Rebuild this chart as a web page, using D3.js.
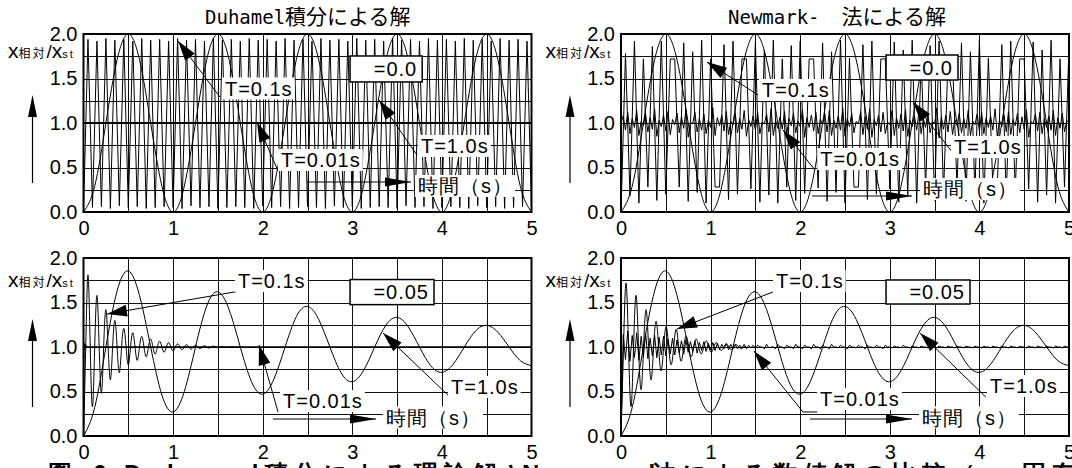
<!DOCTYPE html>
<html>
<head>
<meta charset="utf-8">
<script src="https://cdn.jsdelivr.net/npm/d3@7/dist/d3.min.js"></script>
<style>
  body { margin: 0; background: #fff; }
  svg { display: block; }
  text { font-family: "Liberation Sans", Arial, sans-serif; fill: #000; }
</style>
</head>
<body>
<svg id="chart" width="1072" height="468"></svg>
<script>
// axis ticks and grid
const xTicks = [0, 1, 2, 3, 4, 5]
const yTicks = [0, 0.5, 1, 1.5, 2]
const xGrid = [0.5, 1, 1.5, 2, 2.5, 3, 3.5, 4, 4.5]
const yGrid = [0.25, 0.5, 0.75, 1, 1.25, 1.5, 1.75]

// --- zeta = 0.0 ---------------------------------------------------------
// T=1.0s, one value every 0.125 s
const z0T10 = [0,0.29,1,1.71,2,1.71,1,0.29, 0,0.29,1,1.71,2,1.71,1,0.29,
  0,0.29,1,1.71,2,1.71,1,0.29, 0,0.29,1,1.71,2,1.71,1,0.29,
  0,0.29,1,1.71,2,1.71,1,0.29, 0]
// Duhamel T=0.1s, one value every 0.05 s
const duhZ0T01 = [0,1.94,0.05,1.92,0.06,1.95,0.04,1.93,0.07,1.94,
  0.05,1.92,0.06,1.95,0.04,1.93,0.05,1.94,0.06,1.92,
  0.05,1.95,0.04,1.93,0.07,1.94,0.05,1.92,0.06,1.95,
  0.04,1.93,0.05,1.94,0.06,1.92,0.05,1.95,0.04,1.93,
  0.07,1.94,0.05,1.92,0.06,1.95,0.04,1.93,0.05,1.94,
  0.06,1.92,0.05,1.95,0.04,1.93,0.07,1.94,0.05,1.92,
  0.06,1.95,0.04,1.93,0.05,1.94,0.06,1.92,0.05,1.95,
  0.04,1.93,0.07,1.94,0.05,1.92,0.06,1.95,0.04,1.93,
  0.05,1.94,0.06,1.92,0.05,1.95,0.04,1.93,0.07,1.94,
  0.05,1.92,0.06,1.95,0.04,1.93,0.05,1.94,0.06,1.92,
  0.05]
// Duhamel T=0.01s, every 0.5 s
const duhZ0T001 = [1,1,1,1,1,1,1,1,1,1,1]
// Newmark T=0.1s, every 0.05 s
const nmZ0T01 = [0,1.78,0.18,1.92,0.10,1.72,0.28,1.86,0.13,1.92,
  0.20,1.72,1.72,0.28,1.90,0.12,1.80,0.22,1.93,0.10,
  1.72,0.28,0.28,1.88,0.14,1.92,0.20,1.72,1.72,0.26,
  1.91,0.11,1.82,0.19,1.93,0.10,1.72,0.28,1.87,0.13,
  1.92,0.21,1.72,1.72,0.27,1.90,0.12,1.80,0.22,1.93,
  0.10,1.73,0.28,0.28,1.88,0.14,1.92,0.20,1.72,1.72,
  0.26,1.91,0.11,1.82,0.19,1.93,0.10,1.72,0.28,1.87,
  0.13,1.92,0.21,1.72,1.72,0.27,1.90,0.12,1.80,0.22,
  1.93,0.10,1.73,0.28,0.28,1.88,0.14,1.92,0.20,1.72,
  1.72,0.26,1.91,0.11,1.82,0.19,1.93,0.10,1.72,0.28,
  1.87]
// Newmark T=0.01s, every 0.025 s
const nmZ0T001 = [1.00,1.08,0.92,1.12,0.88,1.05,0.95,1.14,0.86,1.02,
  0.97,1.10,0.90,1.06,0.93,1.16,0.85,1.03,0.96,1.09,
  0.91,1.13,0.87,1.04,0.98,1.11,0.89,1.07,0.94,1.15,
  0.84,1.01,0.99,1.12,0.90,1.05,0.92,1.10,0.88,1.03,
  0.95,1.17,0.86,1.06,0.97,1.09,0.91,1.13,0.87,1.02,
  0.98,1.11,0.89,1.05,0.93,1.14,0.85,1.04,0.96,1.08,
  0.92,1.12,0.88,1.01,0.99,1.10,0.90,1.16,0.86,1.03,
  0.94,1.07,0.93,1.13,0.87,1.05,0.97,1.11,0.89,1.02,
  0.96,1.15,0.84,1.06,0.95,1.09,0.91,1.12,0.88,1.04,
  0.98,1.10,0.90,1.14,0.86,1.03,0.94,1.08,0.92,1.17,
  0.85,1.05,0.96,1.11,0.89,1.02,0.99,1.13,0.87,1.07,
  0.93,1.16,0.84,1.04,0.97,1.09,0.90,1.12,0.88,1.01,
  0.98,1.14,0.86,1.06,0.94,1.10,0.91,1.15,0.85,1.03,
  0.96,1.08,0.92,1.12,0.88,1.05,0.95,1.11,0.89,1.02,
  0.99,1.17,0.83,1.07,0.93,1.09,0.90,1.13,0.87,1.04,
  0.97,1.11,0.89,1.05,0.94,1.14,0.86,1.02,0.98,1.10,
  0.91,1.12,0.88,1.06,0.95,1.08,0.92,1.16,0.85,1.03,
  0.96,1.09,0.90,1.13,0.87,1.04,0.97,1.11,0.89,1.07,
  0.93,1.15,0.84,1.02,0.99,1.10,0.91,1.12,0.88,1.05,
  0.95,1.08,0.92,1.14,0.86,1.06,0.94,1.11,0.90,1.03,
  1.00]

// --- zeta = 0.05 --------------------------------------------------------
// T=1.0s, every 0.125 s
const z5T10 = [0,0.32,1,1.63,1.855,1.58,1,0.46,0.27,0.50,1,1.46,1.62,1.42,1,0.61,
  0.47,0.64,1,1.34,1.456,1.31,1,0.71,0.61,0.735,1,1.245,1.333,1.226,1,0.79,
  0.715,0.806,1,1.179,1.243,1.166,1,0.847,0.79]
// Duhamel T=0.1s, every 0.025 s
const duhZ5T01 = [0,1,1.81,1,0.33,1,1.58,1,0.48,1,1.42,1,0.63,1,1.30,1,0.71,1,1.21,1,
  0.80,1,1.16,1,0.85,1,1.12,1,0.89,1,1.09,1,0.92,1,1.065,1,0.94,1,1.05,1,
  0.955,1,1.035,1,0.967,1,1.026,1,0.976,1,1.02,1,0.983,1,1.014,1,0.988,1,1.01,1,
  0.991,1,1.007,1,0.993,1,1.005,1,0.995,1,1]
// Duhamel T=0.01s
const duhZ5T001Time = [0, 0.004, 0.01, 0.02, 0.04, 5]
const duhZ5T001 = [0, 1.05, 0.97, 1.02, 1.0, 1.0]
// Newmark T=0.1s, every 0.028 s
const nmZ5T01 = [0,1,1.72,1,0.33,1,1.58,1,0.52,1,1.42,1,0.63,1,1.29,1,0.73,1,1.23,1,
  0.80,1,1.20,1,0.84,1,1.12,1,0.89,1,1.09,1,0.92,1,1.07,1,0.94,1,1.05,1,
  0.96,1,1.035,1,0.97,1,1.025,1,0.98,1,1]
// Newmark T=0.01s, every 0.025 s
const nmZ5T001 = [0,1.14,0.86,1.18,0.84,1.13,0.88,1.16,0.85,1.12,
  0.89,1.15,0.87,1.10,0.90,1.13,0.88,1.11,0.91,1.12,
  0.90,1.09,0.92,1.10,0.91,1.08,0.93,1.07,0.92,1.08,
  0.94,1.06,0.95,1.07,0.93,1.05,0.96,1.06,0.95,1.04,
  0.97,1.05,0.96,1.04,0.97,1.03,0.98,1.04,0.97,1.03,
  0.98,1.03,0.98,1.02,0.99,1.03,0.98,1.02,0.99,1.02,
  0.98,1.02,1.00,1.00,0.98,1.03,0.99,1.00,1.00,0.98,
  1.03,1.00,1.00,0.98,1.02,1.00,1.00,0.98,1.03,1.00,
  1.00,0.98,1.02,1.00,1.00,0.98,1.03,1.00,1.00,0.98,
  1.02,1.00,1.00,0.98,1.03,1.00,1.00,0.99,1.02,1.00,
  1.00,0.98,1.02,1.00,1.00,0.99,1.02,1.00,1.00,0.98,
  1.02,1.00,1.00,0.99,1.02,1.00,1.00,0.98,1.02,1.00,
  1.00,0.99,1.01,1.00,1.00,0.99,1.02,1.00,1.00,0.99,
  1.01,1.00,1.00,0.99,1.01,1.00,1.00,0.99,1.01,1.00,
  1.00,0.99,1.01,1.00,1.00,0.99,1.01,1.00,1.00,0.99,
  1.01,1.00,1.00,0.99,1.01,1.00,1.00,0.99,1.01,1.00,
  1.00,0.99,1.01,1.00,1.00,0.99,1.01,1.00,1.00,0.99,
  1.01,1.00,1.00,0.99,1.01,1.00,1.00,0.99,1.01,1.00,
  1.00,0.99,1.01,1.00,1.00,0.99,1.01,1.00,1.00,0.99,
  1.01,1.00,1.00,0.99,1.01,1.00,1.00,0.99,1.01,1.00,
  1.00]

// helpers to turn value lists into [t, v] pairs
const stepped = (vals, step) => vals.map((v, i) => [i * step, v])
const paired = (ts, vals) => vals.map((v, i) => [ts[i], v])

const W = 448, H = 178
const svg = d3.select('#chart')

const panels = [
  { id: 'tl', left: 83.5, top: 34, zeta: '=0.0', zbox: [2.975, 3.78, 1.461, 1.753],
    series: [
      { pts: stepped(duhZ0T01, 0.05), curve: d3.curveLinear },
      { pts: stepped(z0T10, 0.125), curve: d3.curveNatural },
      { pts: stepped(duhZ0T001, 0.5), curve: d3.curveLinear, w: 2 }
    ],
    notes: [
      { text: 'T=0.1s', bx: 1.545, cy: 1.388, from: [[1.523, 1.292]], tip: [1.055, 1.921] },
      { text: 'T=0.01s', bx: 2.17, cy: 0.584, from: [[2.171, 0.461]], tip: [1.937, 1.011] },
      { text: 'T=1.0s', bx: 3.733, cy: 0.742, from: [[3.722, 0.640]], tip: [3.298, 1.258] }
    ],
    time: { bx: 3.7, cy: 0.292, from: [2.494, 0.337], to: [3.655, 0.337] } },
  { id: 'tr', left: 621, top: 34, zeta: '=0.0', zbox: [2.958, 3.761, 1.483, 1.764],
    series: [
      { pts: stepped(z0T10, 0.125), curve: d3.curveNatural },
      { pts: stepped(nmZ0T01, 0.05), curve: d3.curveLinear },
      { pts: stepped(nmZ0T001, 0.025), curve: d3.curveLinear }
    ],
    notes: [
      { text: 'T=0.1s', bx: 1.54, cy: 1.371, from: [[1.529, 1.315]], tip: [0.96, 1.685] },
      { text: 'T=0.01s', bx: 2.19, cy: 0.596, from: [[2.165, 0.472]], tip: [1.808, 0.921] },
      { text: 'T=1.0s', bx: 3.683, cy: 0.73, from: [[3.705, 0.663]], tip: [3.259, 1.236] }
    ],
    time: { bx: 3.337, cy: 0.258, from: [2.132, 0.18], to: [3.248, 0.18] } },
  { id: 'bl', left: 83.5, top: 258, zeta: '=0.05', zbox: [2.975, 3.912, 1.476, 1.758],
    series: [
      { pts: stepped(z5T10, 0.125), curve: d3.curveNatural },
      { pts: stepped(duhZ5T01, 0.025), curve: d3.curveNatural },
      { pts: paired(duhZ5T001Time, duhZ5T001), curve: d3.curveLinear, w: 1.5 }
    ],
    notes: [
      { text: 'T=0.1s', bx: 1.69, cy: 1.742, from: [[1.747, 1.629]], tip: [0.262, 1.371] },
      { text: 'T=0.01s', bx: 2.193, cy: 0.393, from: [[2.171, 0.27]], tip: [1.959, 1.022] },
      { text: 'T=1.0s', bx: 4.068, cy: 0.551, from: [[4.09, 0.438]], tip: [3.343, 1.157] }
    ],
    time: { bx: 3.343, cy: 0.208, from: [2.115, 0.191], to: [3.265, 0.191] } },
  { id: 'br', left: 621, top: 258, zeta: '=0.05', zbox: [2.958, 3.895, 1.483, 1.753],
    series: [
      { pts: stepped(z5T10, 0.125), curve: d3.curveNatural },
      { pts: stepped(nmZ5T01, 0.028), curve: d3.curveNatural },
      { pts: stepped(nmZ5T001, 0.025), curve: d3.curveLinear }
    ],
    notes: [
      { text: 'T=0.1s', bx: 1.696, cy: 1.742, from: [[1.696, 1.618]], tip: [0.625, 1.202] },
      { text: 'T=0.01s', bx: 2.188, cy: 0.416, from: [[2.19, 0.27], [2.031, 0.27]], tip: [1.484, 0.955] },
      { text: 'T=1.0s', bx: 4.085, cy: 0.562, from: [[4.071, 0.438]], tip: [3.337, 1.157] }
    ],
    time: { bx: 3.326, cy: 0.208, from: [2.11, 0.191], to: [3.248, 0.191] } }
]

function arrowHead(g, from, tip, len, half) {
  const dx = tip[0] - from[0], dy = tip[1] - from[1]
  const L = Math.hypot(dx, dy), ux = dx / L, uy = dy / L
  const bx = tip[0] - ux * len, by = tip[1] - uy * len
  g.append('path')
    .attr('d', 'M' + tip[0] + ',' + tip[1] + 'L' + (bx - uy * half) + ',' + (by + ux * half) +
      'L' + (bx + uy * half) + ',' + (by - ux * half) + 'Z')
    .attr('fill', '#000')
}

function labelBox(g, txt, px, pcy, size, ls) {
  const t = g.append('text').attr('x', px + 3).attr('y', pcy).attr('dy', '0.36em')
    .attr('font-size', size).attr('letter-spacing', ls).text(txt)
  const b = t.node().getBBox()
  g.insert('rect', () => t.node())
    .attr('x', px).attr('y', pcy - 11).attr('width', b.width + 5).attr('height', 22)
    .attr('fill', '#fff')
}

function drawPanel(p) {
  const x = d3.scaleLinear().domain([0, 5]).range([p.left, p.left + W])
  const y = d3.scaleLinear().domain([0, 2]).range([p.top + H, p.top])
  const g = svg.append('g')

  // grid
  const gx = g.append('g').attr('transform', 'translate(0,' + (p.top + H) + ')')
    .call(d3.axisBottom(x).tickValues(xGrid).tickSize(-H).tickFormat(''))
  gx.select('.domain').remove()
  gx.selectAll('line').attr('stroke', '#111').attr('shape-rendering', 'crispEdges')
  const gy = g.append('g').attr('transform', 'translate(' + p.left + ',0)')
    .call(d3.axisLeft(y).tickValues(yGrid).tickSize(-W).tickFormat(''))
  gy.select('.domain').remove()
  gy.selectAll('line').attr('stroke', '#111').attr('shape-rendering', 'crispEdges')

  // curves
  svg.append('clipPath').attr('id', 'clip-' + p.id).append('rect')
    .attr('x', p.left).attr('y', p.top).attr('width', W).attr('height', H)
  const cg = g.append('g').attr('clip-path', 'url(#clip-' + p.id + ')')
  p.series.forEach(s => {
    const line = d3.line().x(d => x(d[0])).y(d => y(d[1])).curve(s.curve)
    cg.append('path').attr('d', line(s.pts)).attr('fill', 'none')
      .attr('stroke', '#000').attr('stroke-width', s.w || 1)
  })

  // frame
  g.append('rect').attr('x', p.left).attr('y', p.top).attr('width', W).attr('height', H)
    .attr('fill', 'none').attr('stroke', '#000').attr('stroke-width', 2)

  // tick labels
  const xa = g.append('g').attr('transform', 'translate(0,' + (p.top + H) + ')')
    .call(d3.axisBottom(x).tickValues(xTicks).tickSize(0).tickPadding(9).tickFormat(d3.format('d')))
  xa.select('.domain').remove()
  xa.attr('font-size', 20).attr('font-family', '"Liberation Sans", Arial, sans-serif')
  const ya = g.append('g').attr('transform', 'translate(' + p.left + ',0)')
    .call(d3.axisLeft(y).tickValues(yTicks).tickSize(0).tickPadding(6).tickFormat(d3.format('.1f')))
  ya.select('.domain').remove()
  ya.attr('font-size', 20).attr('font-family', '"Liberation Sans", Arial, sans-serif')

  // annotations
  const ag = g.append('g')
  p.notes.forEach(n => {
    const pts = n.from.map(d => [x(d[0]), y(d[1])])
    const tip = [x(n.tip[0]), y(n.tip[1])]
    const all = pts.concat([tip])
    ag.append('path').attr('d', d3.line()(all)).attr('fill', 'none')
      .attr('stroke', '#000').attr('stroke-width', 1)
    arrowHead(ag, pts[pts.length - 1], tip, 20, 6)
    labelBox(ag, n.text, x(n.bx), y(n.cy), 20, 1)
  })
  const tm = p.time
  const a0 = [x(tm.from[0]), y(tm.from[1])], a1 = [x(tm.to[0]), y(tm.to[1])]
  ag.append('line').attr('x1', a0[0]).attr('y1', a0[1]).attr('x2', a1[0]).attr('y2', a1[1])
    .attr('stroke', '#000').attr('stroke-width', 1)
  arrowHead(ag, a0, a1, 26, 4.5)
  labelBox(ag, '時間（s）', x(tm.bx), y(tm.cy), 20, 1)

  // zeta box
  const zb = p.zbox
  ag.append('rect').attr('x', x(zb[0])).attr('y', y(zb[3]))
    .attr('width', x(zb[1]) - x(zb[0])).attr('height', y(zb[2]) - y(zb[3]))
    .attr('fill', '#fff').attr('stroke', '#000').attr('stroke-width', 1.5)
  ag.append('text').attr('x', x(zb[1]) - 5).attr('y', (y(zb[2]) + y(zb[3])) / 2).attr('dy', '0.36em')
    .attr('text-anchor', 'end').attr('font-size', 20).attr('letter-spacing', 1).text(p.zeta)

  // y label + arrow
  const lx = p.left - 75.5
  const yl = g.append('text').attr('x', lx).attr('y', p.top + (p.top > 100 ? 29 : 24))
  yl.append('tspan').attr('font-size', 21).text('x')
  yl.append('tspan').attr('font-size', 12).attr('letter-spacing', 2)
    .attr('font-family', '"Noto Sans CJK JP", sans-serif').text('相対')
  yl.append('tspan').attr('font-size', 19).text('/')
  yl.append('tspan').attr('font-size', 21).text('x')
  yl.append('tspan').attr('font-size', 11).attr('letter-spacing', 2).text('st')
  const ax = p.left - 51
  g.append('line').attr('x1', ax).attr('x2', ax).attr('y1', p.top + 149).attr('y2', p.top + 75)
    .attr('stroke', '#000').attr('stroke-width', 1.2)
  arrowHead(g, [ax, p.top + 149], [ax, p.top + 61], 22, 4.5)
}

panels.forEach(drawPanel)

// titles
function title(x0, latin, cjk, gap) {
  const t = svg.append('text').attr('x', x0).attr('y', 24)
  t.append('tspan').attr('font-family', '"DejaVu Sans Mono", monospace').attr('font-size', 19).text(latin)
  t.append('tspan').attr('dx', gap).attr('font-family', '"Noto Sans CJK JP", sans-serif')
    .attr('font-size', 21).text(cjk)
}
title(205, 'Duhamel', '積分による解', 0)
title(728, 'Newmark-', '法による解', 22)

// caption (cut off at the bottom edge)
const cap = svg.append('text').attr('y', 482).attr('font-size', 24).attr('font-weight', 'bold')
  .attr('letter-spacing', 5.5).attr('font-family', '"Noto Sans CJK JP", sans-serif')
cap.append('tspan').attr('x', 48).text('図')
cap.append('tspan').attr('x', 93).text('6')
cap.append('tspan').attr('x', 124).text('Duhamel積分による理論解と')
cap.append('tspan').attr('x', 522).text('Newmark-')
cap.append('tspan').attr('x', 652).text('法による数値解の比較（ ＝固有周期')
</script>
</body>
</html>
